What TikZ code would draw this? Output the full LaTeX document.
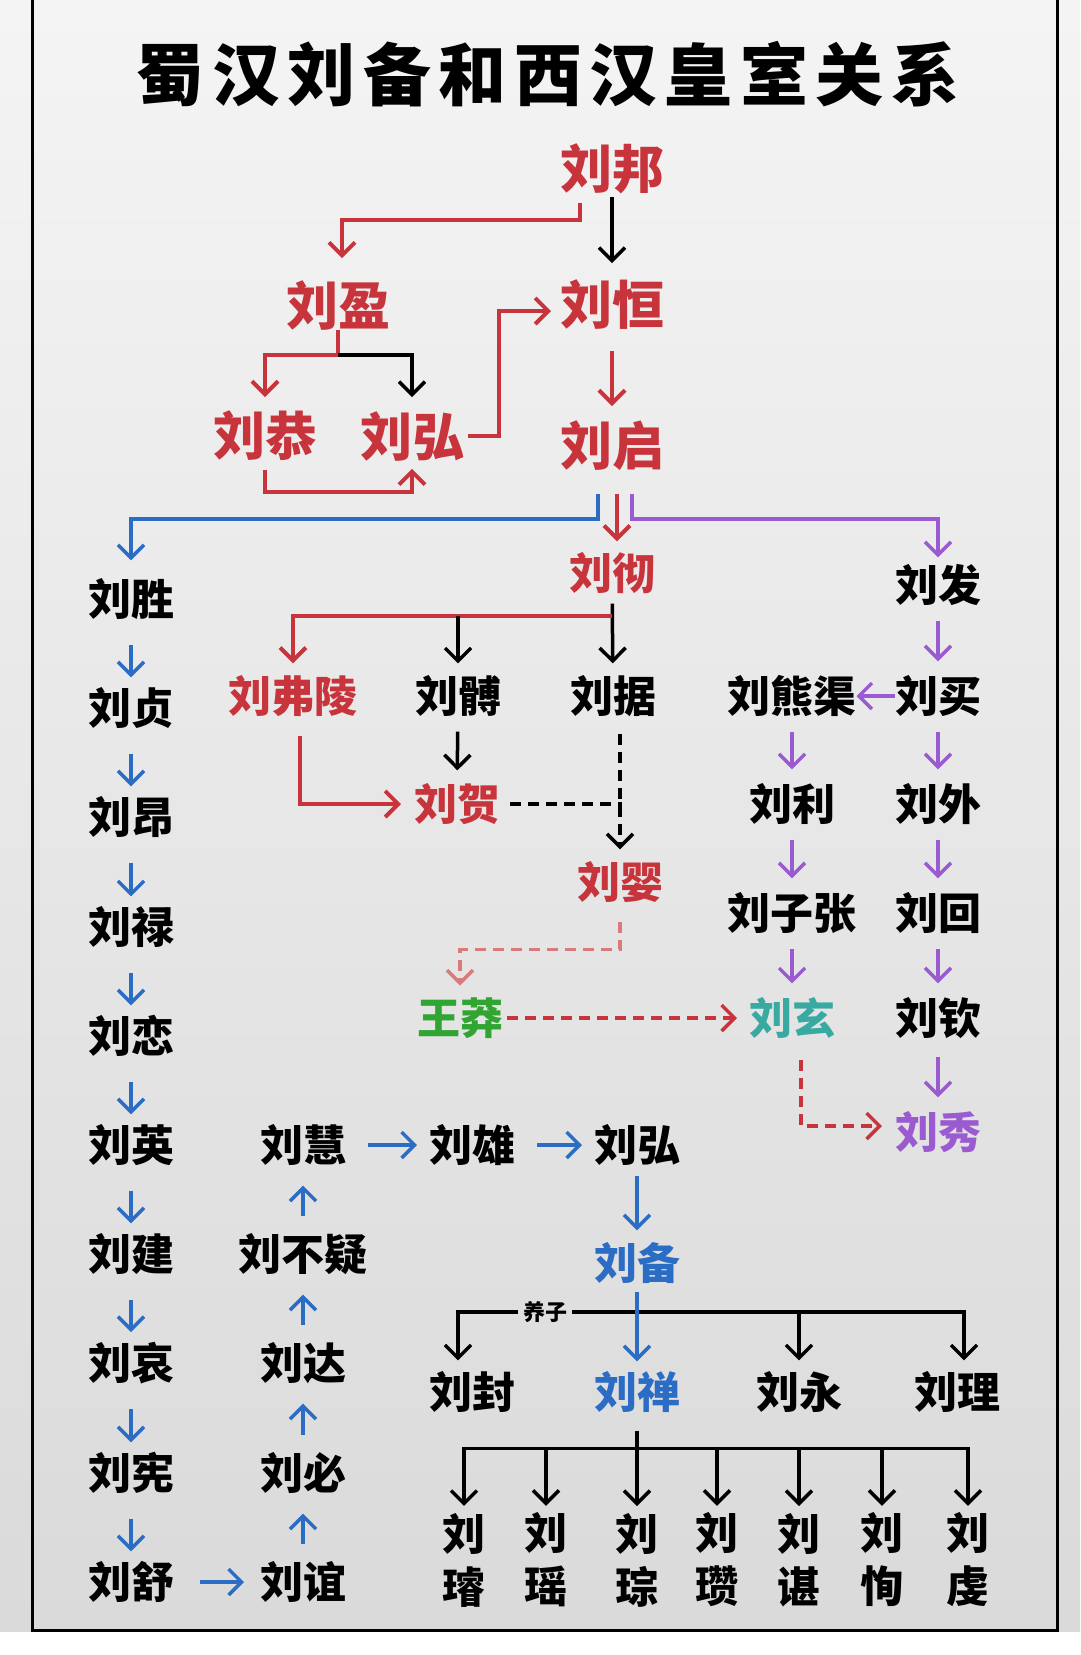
\documentclass[tikz,border=0pt]{standalone}
\usepackage{fontspec}
\setmainfont{Noto Sans CJK SC}
\newfontfamily\titlefont{Noto Sans CJK SC}[LetterSpace=11]
\usepackage{xcolor}
\usepackage{tikz}
\usetikzlibrary{arrows.meta}

\definecolor{hanred}{HTML}{C8343B}
\definecolor{palered}{HTML}{D97B7B}
\definecolor{hanblue}{HTML}{2B6CC4}
\definecolor{hanpurple}{HTML}{9A5BD0}
\definecolor{hangreen}{HTML}{30A532}
\definecolor{hanteal}{HTML}{38AAA2}
\definecolor{bgtop}{HTML}{F4F4F4}
\definecolor{bgbot}{HTML}{DADADA}

\begin{document}
\begin{tikzpicture}[x=1pt, y=-1pt,
    >={Straight Barb[length=13pt,width=26pt]},
    person/.style={inner sep=0pt, outer sep=0pt, font=\fontsize{43}{43}\selectfont\bfseries},
    bigperson/.style={person, font=\fontsize{52}{52}\selectfont\bfseries, text=hanred},
    grandson/.style={person, align=center, font=\fontsize{43}{53}\selectfont\bfseries},
    redarrow/.style={draw=hanred, line width=4pt, ->},
    blackarrow/.style={draw=black, line width=3.5pt, ->},
    bluearrow/.style={draw=hanblue, line width=3.5pt, ->},
    purplearrow/.style={draw=hanpurple, line width=3.5pt, ->},
    reddash/.style={draw=hanred, line width=3.5pt, dash pattern=on 11pt off 7pt, ->},
    blackdash/.style={draw=black, line width=3.5pt, dash pattern=on 11pt off 7pt},
    bluechain/.style={bluearrow, shorten <=25pt, shorten >=10pt},
    blueup/.style={bluearrow, shorten <=17pt, shorten >=20pt},
    purplechain/.style={purplearrow, shorten <=15pt, shorten >=14pt}]

    \useasboundingbox (0,0) rectangle (1080,1655);
    \shade[top color=bgtop, bottom color=bgbot] (0,0) rectangle (1080,1632);
    \fill[white] (0,1632) rectangle (1080,1655);
    \draw[line width=3pt] (32,0) -- (32,1630) -- (1057,1630) -- (1057,0);

    \node[font={\titlefont\fontsize{68}{68}\selectfont\bfseries}] (title) at (548,74) {蜀汉刘备和西汉皇室关系};

    \node[bigperson] (liubang) at (612,169) {刘邦};
    \node[bigperson] (liuyingA) at (338,305) {刘盈};
    \node[bigperson] (liuheng) at (612,305) {刘恒};
    \node[bigperson] (liugong) at (265,436) {刘恭};
    \node[bigperson] (liuhongA) at (412,436) {刘弘};
    \node[bigperson] (liuqi) at (612,446) {刘启};

    \node[person, text=hanred] (liuche) at (612,573) {刘彻};
    \node[person] (liufa) at (938,585) {刘发};

    \node[person] (liusheng) at (131,599) {刘胜};
    \node[person] (liuzhen) at (131,708) {刘贞};
    \node[person] (liuang) at (131,817) {刘昂};
    \node[person] (liulu) at (131,927) {刘禄};
    \node[person] (liulian) at (131,1036) {刘恋};
    \node[person] (liuyingC) at (131,1145) {刘英};
    \node[person] (liujian) at (131,1254) {刘建};
    \node[person] (liuai) at (131,1363) {刘哀};
    \node[person] (liuxian) at (131,1473) {刘宪};
    \node[person] (liushu) at (131,1582) {刘舒};

    \node[person] (liuhui) at (303,1145) {刘慧};
    \node[person] (liubuyi) at (303,1254) {刘不疑};
    \node[person] (liuda) at (303,1363) {刘达};
    \node[person] (liubi) at (303,1473) {刘必};
    \node[person] (liuyi) at (303,1582) {刘谊};

    \node[person, text=hanred] (liufuling) at (293,696) {刘弗陵};
    \node[person] (liubo) at (458,696) {刘髆};
    \node[person] (liuju) at (613,696) {刘据};
    \node[person] (liuxiongqu) at (792,696) {刘熊渠};
    \node[person] (liumai) at (938,696) {刘买};

    \node[person, text=hanred] (liuhe) at (457,804) {刘贺};
    \node[person] (liuli) at (792,804) {刘利};
    \node[person] (liuwai) at (938,804) {刘外};
    \node[person, text=hanred] (liuyingB) at (620,882) {刘婴};
    \node[person] (liuzizhang) at (792,913) {刘子张};
    \node[person] (liuhuiB) at (938,913) {刘回};
    \node[person, text=hangreen] (wangmang) at (460,1018) {王莽};
    \node[person, text=hanteal] (liuxuan) at (792,1018) {刘玄};
    \node[person] (liuqin) at (938,1018) {刘钦};
    \node[person, text=hanpurple] (liuxiu) at (938,1132) {刘秀};

    \node[person] (liuxiong) at (472,1145) {刘雄};
    \node[person] (liuhongB) at (637,1145) {刘弘};
    \node[person, text=hanblue] (liubei) at (637,1263) {刘备};
    \node[font=\fontsize{22}{22}\selectfont\bfseries, inner sep=5pt] (adopt) at (545,1312) {养子};
    \node[person] (liufeng) at (472,1392) {刘封};
    \node[person, text=hanblue] (liushan) at (637,1392) {刘禅};
    \node[person] (liuyong) at (799,1392) {刘永};
    \node[person] (liuli2) at (957,1392) {刘理};

    \node[grandson] (gxuan) at (464,1560) {刘\\璿};
    \node[grandson] (gyao) at (546,1560) {刘\\瑶};
    \node[grandson] (gcong) at (637,1560) {刘\\琮};
    \node[grandson] (gzan) at (717,1560) {刘\\瓒};
    \node[grandson] (gchen) at (799,1560) {刘\\谌};
    \node[grandson] (gxun) at (882,1560) {刘\\恂};
    \node[grandson] (gqian) at (968,1560) {刘\\虔};

    \draw[redarrow] ([xshift=-32pt,yshift=-9pt]liubang.south) -- ++(0,17) -| ([xshift=4pt,yshift=22pt]liuyingA.north);
    \draw[blackarrow, shorten <=3pt, shorten >=17pt] (liubang) -- (liuheng);
    \draw[redarrow] (liuyingA.south) -- ++(0,25) coordinate (yingsplit) -| ([yshift=14pt]liugong.north);
    \draw[blackarrow] (yingsplit) -| ([yshift=14pt]liuhongA.north);
    \draw[redarrow] ([yshift=-9pt]liugong.south) -- ++(0,22) -| ([yshift=-8pt]liuhongA.south);
    \draw[redarrow] ([xshift=4pt]liuhongA.east) -- ++(31,0) |- ([xshift=-9pt,yshift=-6pt]liuheng.west);
    \draw[redarrow, shorten <=21pt, shorten >=15pt] (liuheng) -- (liuqi);

    \draw[bluearrow] ([xshift=-14pt,yshift=-23pt]liuqi.south) -- ++(0,25) -| ([yshift=18pt]liusheng.north);
    \draw[redarrow, shorten <=23pt, shorten >=11pt] ([xshift=5pt]liuqi.south) -- ([xshift=5pt]liuche.north);
    \draw[purplearrow] ([xshift=20pt,yshift=-23pt]liuqi.south) -- ++(0,25) -| ([yshift=7pt]liufa.north);

    \draw[bluechain] (liusheng) -- (liuzhen);
    \draw[bluechain] (liuzhen) -- (liuang);
    \draw[bluechain] (liuang) -- (liulu);
    \draw[bluechain] (liulu) -- (liulian);
    \draw[bluechain] (liulian) -- (liuyingC);
    \draw[bluechain] (liuyingC) -- (liujian);
    \draw[bluechain] (liujian) -- (liuai);
    \draw[bluechain] (liuai) -- (liuxian);
    \draw[bluechain] (liuxian) -- (liushu);
    \draw[bluearrow, shorten <=26pt, shorten >=16pt] (liushu) -- (liuyi);
    \draw[blueup] (liuyi) -- (liubi);
    \draw[blueup] (liubi) -- (liuda);
    \draw[blueup] (liuda) -- (liubuyi);
    \draw[blueup] (liubuyi) -- (liuhui);
    \draw[bluearrow, shorten <=22pt, shorten >=12pt] (liuhui) -- (liuxiong);
    \draw[bluearrow, shorten <=22pt, shorten >=12pt] (liuxiong) -- (liuhongB);
    \draw[bluearrow, shorten <=10pt, shorten >=12pt] (liuhongB) -- (liubei);

    \coordinate (chebar) at ([yshift=-22pt]liuche.south);
    \draw[blackarrow, shorten <=10pt, shorten >=12pt] (liuche) -- (liuju);
    \draw[redarrow] (chebar) -| ([yshift=12pt]liufuling.north);
    \draw[blackarrow] (chebar -| liubo) -- ([yshift=12pt]liubo.north);
    \draw[redarrow] ([xshift=7pt,yshift=-19pt]liufuling.south) |- ([xshift=-13pt]liuhe.west);
    \draw[blackarrow, shorten <=15pt, shorten >=13pt] (liubo) -- (liuhe);
    \draw[blackdash, ->] ([xshift=7pt,yshift=-17pt]liuju.south) -- ([yshift=12pt]liuyingB.north);
    \draw[blackdash] ([xshift=10pt]liuhe.east) -- (liuhe.east -| liuyingB) -- ++(0,8);
    \draw[reddash, draw=palered] ([yshift=-19pt]liuyingB.south) -- ++(0,28) -| ([yshift=12pt]wangmang.north);
    \draw[reddash, shorten <=4pt, shorten >=12pt] (wangmang) -- (liuxuan);
    \draw[reddash] ([xshift=9pt,yshift=-21pt]liuxuan.south) |- ([xshift=-13pt,yshift=6pt]liuxiu.west);

    \draw[purplechain] (liufa) -- (liumai);
    \draw[purplearrow] (liumai) -- (liuxiongqu);
    \draw[purplechain] (liumai) -- (liuwai);
    \draw[purplechain] (liuwai) -- (liuhuiB);
    \draw[purplechain] (liuhuiB) -- (liuqin);
    \draw[purplechain, shorten <=18pt] (liuqin) -- (liuxiu);
    \draw[purplechain] (liuxiongqu) -- (liuli);
    \draw[purplechain] (liuli) -- (liuzizhang);
    \draw[purplechain] (liuzizhang) -- (liuxuan);

    \draw[blackarrow] (adopt.west) -| ([xshift=-14pt,yshift=11pt]liufeng.north);
    \draw[blackarrow] (adopt.east) -| ([xshift=7pt,yshift=11pt]liuli2.north);
    \draw[blackarrow] (adopt.east -| liuyong) -- ([yshift=11pt]liuyong.north);
    \draw[bluearrow, shorten <=8pt, shorten >=10pt] (liubei) -- (liushan);

    \coordinate (shanbar) at ([yshift=-36pt]liushan.south);
    \draw[blackarrow] ([yshift=-18pt]liushan.south) -- (shanbar) -| ([yshift=7pt]gxuan.north);
    \draw[blackarrow] (shanbar) -| ([yshift=7pt]gqian.north);
    \draw[blackarrow] (shanbar) -- ([yshift=7pt]gcong.north);
    \draw[blackarrow] (shanbar -| gyao) -- ([yshift=7pt]gyao.north);
    \draw[blackarrow] (shanbar -| gzan) -- ([yshift=7pt]gzan.north);
    \draw[blackarrow] (shanbar -| gchen) -- ([yshift=7pt]gchen.north);
    \draw[blackarrow] (shanbar -| gxun) -- ([yshift=7pt]gxun.north);
\end{tikzpicture}
\end{document}
